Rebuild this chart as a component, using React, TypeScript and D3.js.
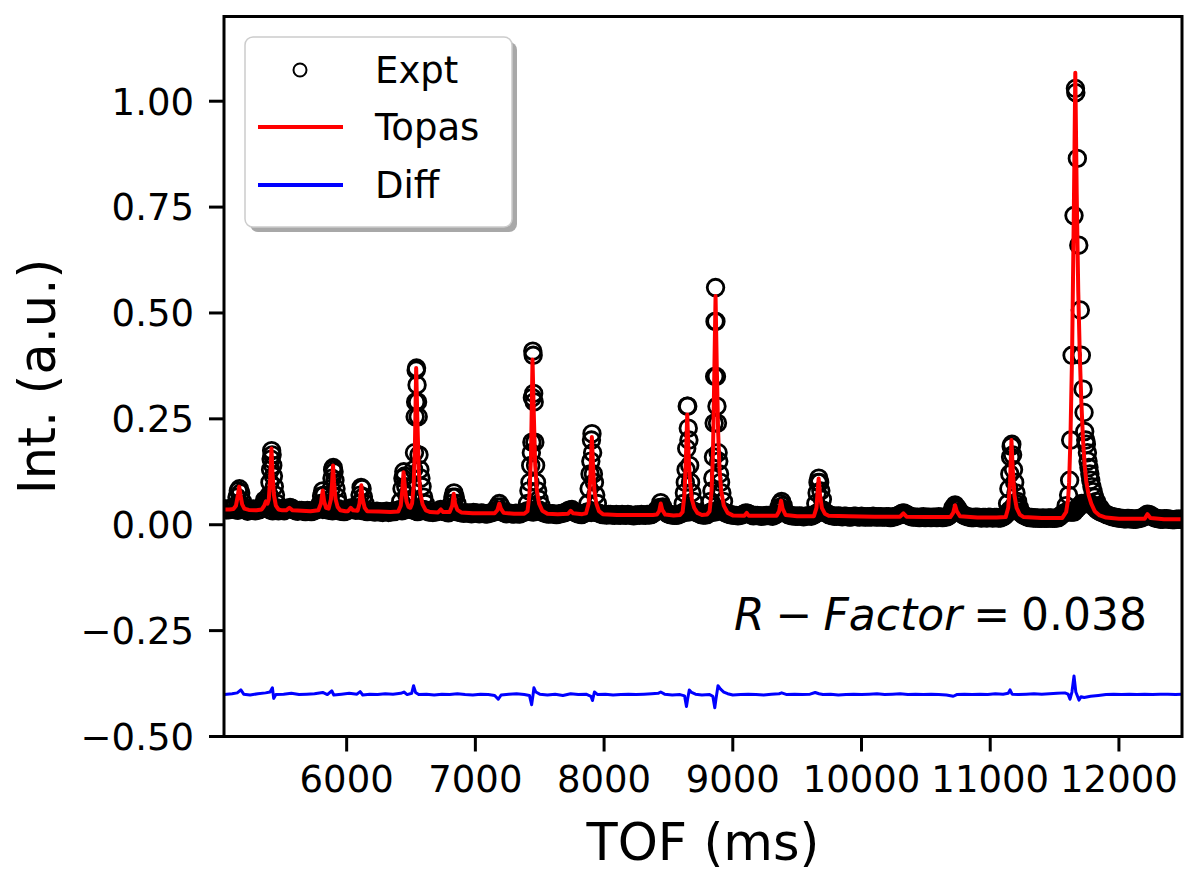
import React from "react";
import * as d3 from "d3";

type Pt = [number, number];

const W = 1188;
const H = 880;
const M = { left: 224, right: 1182, top: 16.5, bottom: 736.5 };
const FONT = "DejaVu Sans";

const xDomain: Pt = [5047, 12490];
const yDomain: Pt = [-0.5, 1.2];
const xTicks = [6000, 7000, 8000, 9000, 10000, 11000, 12000];
const yTicks = [-0.5, -0.25, 0, 0.25, 0.5, 0.75, 1.0];
const legendLabels = ["Expt", "Topas", "Diff"];
const rFactor = "0.038";

// experimental points on the background, [TOF, intensity]
const exptBackground: Pt[] = [
  [5050, 0.038], [5080, 0.035], [5110, 0.04], [5140, 0.035], [5170, 0.036], [5200, 0.037], [5230, 0.032], [5260, 0.036], [5290, 0.033], [5320, 0.035],
  [5350, 0.045], [5380, 0.05], [5410, 0.034], [5440, 0.036], [5470, 0.033], [5500, 0.034], [5530, 0.036], [5560, 0.041], [5590, 0.035], [5620, 0.032],
  [5650, 0.034], [5680, 0.031], [5710, 0.033], [5740, 0.032], [5770, 0.036], [5800, 0.04], [5830, 0.038], [5860, 0.034], [5890, 0.033], [5920, 0.036],
  [5950, 0.032], [5980, 0.031], [6010, 0.034], [6040, 0.04], [6070, 0.034], [6100, 0.035], [6130, 0.033], [6160, 0.031], [6190, 0.032], [6220, 0.03],
  [6250, 0.031], [6280, 0.029], [6310, 0.032], [6340, 0.03], [6370, 0.031], [6400, 0.034], [6430, 0.033], [6460, 0.036], [6490, 0.038], [6520, 0.034],
  [6550, 0.031], [6580, 0.033], [6610, 0.035], [6640, 0.03], [6670, 0.029], [6700, 0.031], [6730, 0.036], [6760, 0.031], [6790, 0.028], [6820, 0.033],
  [6850, 0.032], [6880, 0.029], [6910, 0.027], [6940, 0.028], [6970, 0.026], [7000, 0.028], [7030, 0.026], [7060, 0.027], [7090, 0.025], [7120, 0.028],
  [7150, 0.031], [7180, 0.034], [7210, 0.03], [7240, 0.026], [7270, 0.027], [7300, 0.025], [7330, 0.026], [7360, 0.028], [7390, 0.031], [7420, 0.033],
  [7450, 0.03], [7480, 0.034], [7510, 0.031], [7540, 0.027], [7570, 0.025], [7600, 0.026], [7630, 0.024], [7660, 0.026], [7690, 0.028], [7720, 0.033],
  [7750, 0.036], [7780, 0.028], [7810, 0.025], [7840, 0.026], [7870, 0.03], [7900, 0.029], [7930, 0.03], [7960, 0.027], [7990, 0.024], [8020, 0.023],
  [8050, 0.024], [8080, 0.022], [8110, 0.023], [8140, 0.024], [8170, 0.022], [8200, 0.023], [8230, 0.021], [8260, 0.023], [8290, 0.024], [8320, 0.022],
  [8350, 0.023], [8380, 0.026], [8410, 0.035], [8440, 0.04], [8470, 0.033], [8500, 0.025], [8530, 0.023], [8560, 0.022], [8590, 0.025], [8620, 0.03],
  [8650, 0.03], [8680, 0.033], [8710, 0.03], [8740, 0.026], [8770, 0.023], [8800, 0.024], [8830, 0.03], [8860, 0.03], [8890, 0.035], [8920, 0.032],
  [8950, 0.027], [8980, 0.024], [9010, 0.022], [9040, 0.021], [9070, 0.023], [9100, 0.028], [9130, 0.025], [9160, 0.021], [9190, 0.022], [9220, 0.02],
  [9250, 0.021], [9280, 0.022], [9310, 0.02], [9340, 0.025], [9370, 0.04], [9400, 0.03], [9430, 0.024], [9460, 0.021], [9490, 0.02], [9520, 0.021],
  [9550, 0.019], [9580, 0.021], [9610, 0.02], [9640, 0.025], [9670, 0.03], [9700, 0.035], [9730, 0.027], [9760, 0.022], [9790, 0.02], [9820, 0.021],
  [9850, 0.019], [9880, 0.02], [9910, 0.018], [9940, 0.02], [9970, 0.019], [10000, 0.02], [10030, 0.018], [10060, 0.019], [10090, 0.02], [10120, 0.018],
  [10150, 0.019], [10180, 0.018], [10210, 0.019], [10240, 0.018], [10270, 0.02], [10300, 0.024], [10330, 0.028], [10360, 0.023], [10390, 0.019], [10420, 0.018],
  [10450, 0.017], [10480, 0.019], [10510, 0.018], [10540, 0.017], [10570, 0.018], [10600, 0.019], [10630, 0.017], [10660, 0.018], [10690, 0.024], [10720, 0.04],
  [10750, 0.036], [10780, 0.026], [10810, 0.02], [10840, 0.018], [10870, 0.017], [10900, 0.018], [10930, 0.016], [10960, 0.017], [10990, 0.018], [11020, 0.016],
  [11050, 0.017], [11080, 0.016], [11110, 0.02], [11140, 0.03], [11170, 0.035], [11200, 0.05], [11230, 0.03], [11260, 0.022], [11290, 0.018], [11320, 0.017],
  [11350, 0.016], [11380, 0.015], [11410, 0.016], [11440, 0.015], [11470, 0.016], [11500, 0.015], [11530, 0.017], [11560, 0.025], [11590, 0.03], [11620, 0.03],
  [11650, 0.03], [11680, 0.04], [11710, 0.05], [11740, 0.05], [11770, 0.05], [11800, 0.045], [11830, 0.035], [11860, 0.03], [11890, 0.026], [11920, 0.022],
  [11950, 0.019], [11980, 0.017], [12010, 0.015], [12040, 0.014], [12070, 0.015], [12100, 0.014], [12130, 0.013], [12160, 0.015], [12190, 0.018], [12220, 0.025],
  [12250, 0.022], [12280, 0.016], [12310, 0.014], [12340, 0.013], [12370, 0.014], [12400, 0.013], [12430, 0.012], [12460, 0.013], [12490, 0.013],
];

// background points between the ones above
const exptBackgroundMid: Pt[] = [
  [5065, 0.036], [5095, 0.037], [5125, 0.041], [5155, 0.034], [5185, 0.038], [5215, 0.035], [5245, 0.034], [5275, 0.037], [5305, 0.034], [5335, 0.038],
  [5365, 0.05], [5395, 0.045], [5425, 0.033], [5455, 0.04], [5485, 0.035], [5515, 0.033], [5545, 0.038], [5575, 0.039], [5605, 0.033], [5635, 0.034],
  [5665, 0.032], [5695, 0.034], [5725, 0.031], [5755, 0.034], [5785, 0.039], [5815, 0.036], [5845, 0.039], [5875, 0.035], [5905, 0.034], [5935, 0.038],
  [5965, 0.033], [5995, 0.032], [6025, 0.037], [6055, 0.037], [6085, 0.035], [6115, 0.034], [6145, 0.036], [6175, 0.032], [6205, 0.031], [6235, 0.032],
  [6265, 0.03], [6295, 0.031], [6325, 0.029], [6355, 0.032], [6385, 0.033], [6415, 0.036], [6445, 0.034], [6475, 0.039], [6505, 0.036], [6535, 0.033],
  [6565, 0.034], [6595, 0.036], [6625, 0.032], [6655, 0.03], [6685, 0.03], [6715, 0.033], [6745, 0.034], [6775, 0.03], [6805, 0.031], [6835, 0.034],
  [6865, 0.03], [6895, 0.028], [6925, 0.028], [6955, 0.027], [6985, 0.029], [7015, 0.027], [7045, 0.028], [7075, 0.026], [7105, 0.027], [7135, 0.029],
  [7165, 0.034], [7195, 0.033], [7225, 0.028], [7255, 0.027], [7285, 0.026], [7315, 0.027], [7345, 0.025], [7375, 0.029], [7405, 0.033], [7435, 0.031],
  [7465, 0.033], [7495, 0.035], [7525, 0.029], [7555, 0.026], [7585, 0.026], [7615, 0.025], [7645, 0.025], [7675, 0.027], [7705, 0.03], [7735, 0.035],
  [7765, 0.031], [7795, 0.026], [7825, 0.024], [7855, 0.028], [7885, 0.031], [7915, 0.031], [7945, 0.029], [7975, 0.025], [8005, 0.024], [8035, 0.024],
  [8065, 0.023], [8095, 0.024], [8125, 0.022], [8155, 0.023], [8185, 0.024], [8215, 0.022], [8245, 0.023], [8275, 0.022], [8305, 0.023], [8335, 0.024],
  [8365, 0.024], [8395, 0.03], [8425, 0.038], [8455, 0.037], [8485, 0.028], [8515, 0.024], [8545, 0.022], [8575, 0.023], [8605, 0.027], [8635, 0.032],
  [8665, 0.031], [8695, 0.032], [8725, 0.028], [8755, 0.024], [8785, 0.023], [8815, 0.027], [8845, 0.031], [8875, 0.033], [8905, 0.034], [8935, 0.029],
  [8965, 0.025], [8995, 0.023], [9025, 0.022], [9055, 0.022], [9085, 0.025], [9115, 0.027], [9145, 0.023], [9175, 0.022], [9205, 0.021], [9235, 0.021],
  [9265, 0.022], [9295, 0.021], [9325, 0.022], [9355, 0.032], [9385, 0.036], [9415, 0.027], [9445, 0.022], [9475, 0.021], [9505, 0.02], [9535, 0.02],
  [9565, 0.02], [9595, 0.021], [9625, 0.022], [9655, 0.028], [9685, 0.033], [9715, 0.03], [9745, 0.024], [9775, 0.021], [9805, 0.02], [9835, 0.02],
  [9865, 0.02], [9895, 0.019], [9925, 0.019], [9955, 0.02], [9985, 0.018], [10015, 0.019], [10045, 0.019], [10075, 0.018], [10105, 0.019], [10135, 0.019],
  [10165, 0.018], [10195, 0.019], [10225, 0.017], [10255, 0.019], [10285, 0.022], [10315, 0.027], [10345, 0.025], [10375, 0.02], [10405, 0.018], [10435, 0.018],
  [10465, 0.018], [10495, 0.017], [10525, 0.018], [10555, 0.018], [10585, 0.017], [10615, 0.018], [10645, 0.018], [10675, 0.02], [10705, 0.032], [10735, 0.04],
  [10765, 0.03], [10795, 0.022], [10825, 0.019], [10855, 0.017], [10885, 0.018], [10915, 0.017], [10945, 0.017], [10975, 0.016], [11005, 0.017], [11035, 0.017],
  [11065, 0.016], [11095, 0.018], [11125, 0.025], [11155, 0.035], [11185, 0.045], [11215, 0.038], [11245, 0.026], [11275, 0.02], [11305, 0.017], [11335, 0.016],
  [11365, 0.016], [11395, 0.015], [11425, 0.015], [11455, 0.016], [11485, 0.015], [11515, 0.016], [11545, 0.02], [11575, 0.028], [11605, 0.032], [11635, 0.03],
  [11665, 0.035], [11695, 0.045], [11725, 0.05], [11755, 0.05], [11785, 0.048], [11815, 0.04], [11845, 0.032], [11875, 0.028], [11905, 0.024], [11935, 0.02],
  [11965, 0.018], [11995, 0.016], [12025, 0.015], [12055, 0.014], [12085, 0.014], [12115, 0.013], [12145, 0.014], [12175, 0.016], [12205, 0.021], [12235, 0.024],
  [12265, 0.018], [12295, 0.015], [12325, 0.013], [12355, 0.014], [12385, 0.013], [12415, 0.012], [12445, 0.013], [12475, 0.013],
];

// experimental points on the Bragg peaks
const exptPeaks: Pt[] = [
  [5135, 0.045], [5148, 0.065], [5158, 0.08], [5167, 0.085], [5177, 0.075], [5190, 0.055], [5205, 0.042],
  [5350, 0.045], [5362, 0.058], [5376, 0.06], [5388, 0.055],
  [5398, 0.07], [5404, 0.1], [5409, 0.13], [5413, 0.155], [5417, 0.175], [5421, 0.165], [5426, 0.14], [5431, 0.115], [5438, 0.09], [5447, 0.07], [5460, 0.05],
  [5795, 0.05], [5805, 0.068], [5814, 0.08], [5824, 0.07], [5836, 0.052],
  [5872, 0.06], [5880, 0.085], [5886, 0.11], [5891, 0.13], [5896, 0.135], [5902, 0.125], [5909, 0.105], [5917, 0.085], [5927, 0.065], [5940, 0.05],
  [6095, 0.05], [6104, 0.07], [6112, 0.088], [6120, 0.085], [6130, 0.066], [6143, 0.05],
  [6420, 0.055], [6430, 0.085], [6437, 0.11], [6444, 0.125], [6451, 0.115], [6459, 0.09], [6468, 0.07], [6480, 0.055],
  [6505, 0.06], [6514, 0.09], [6521, 0.13], [6527, 0.17], [6532, 0.255], [6536, 0.29], [6540, 0.365], [6543, 0.37], [6547, 0.33], [6551, 0.29],
  [6556, 0.255], [6562, 0.165], [6569, 0.13], [6577, 0.11], [6586, 0.09], [6598, 0.065], [6612, 0.05],
  [6815, 0.05], [6825, 0.065], [6834, 0.075], [6844, 0.065], [6857, 0.05],
  [7170, 0.042], [7186, 0.05], [7200, 0.042],
  [7405, 0.05], [7416, 0.08], [7424, 0.1], [7430, 0.14], [7435, 0.17], [7439, 0.195], [7443, 0.3], [7446, 0.41], [7449, 0.4], [7453, 0.31],
  [7457, 0.29], [7462, 0.195], [7468, 0.14], [7475, 0.1], [7484, 0.08], [7495, 0.06], [7510, 0.045],
  [7875, 0.05], [7884, 0.085], [7891, 0.12], [7897, 0.15], [7902, 0.2], [7906, 0.215], [7911, 0.17], [7917, 0.12], [7925, 0.1], [7935, 0.07], [7948, 0.05],
  [8425, 0.04], [8440, 0.052], [8456, 0.042],
  [8615, 0.05], [8624, 0.075], [8631, 0.1], [8637, 0.13], [8642, 0.18], [8646, 0.28], [8650, 0.28], [8654, 0.228], [8659, 0.2], [8665, 0.14],
  [8672, 0.1], [8682, 0.075], [8695, 0.055],
  [8828, 0.055], [8838, 0.08], [8845, 0.11], [8850, 0.16], [8855, 0.24], [8859, 0.35], [8862, 0.48], [8866, 0.56], [8869, 0.48], [8873, 0.35],
  [8877, 0.28], [8881, 0.24], [8886, 0.17], [8891, 0.15], [8897, 0.12], [8905, 0.1], [8915, 0.075], [8928, 0.055],
  [9357, 0.04], [9368, 0.05], [9379, 0.055], [9392, 0.045],
  [9645, 0.05], [9655, 0.075], [9662, 0.1], [9668, 0.11], [9675, 0.1], [9684, 0.08], [9696, 0.06],
  [10710, 0.04], [10727, 0.047], [10745, 0.04],
  [11135, 0.05], [11145, 0.085], [11152, 0.12], [11158, 0.16], [11163, 0.185], [11168, 0.19], [11174, 0.165], [11181, 0.13], [11190, 0.1], [11200, 0.075],
  [11213, 0.055], [11228, 0.04],
  [11590, 0.045], [11609, 0.07], [11617, 0.105], [11625, 0.2], [11636, 0.4], [11651, 0.73], [11662, 1.03], [11665, 1.02], [11677, 0.865], [11688, 0.66],
  [11700, 0.507], [11708, 0.4], [11721, 0.32], [11729, 0.265], [11734, 0.22], [11742, 0.2], [11747, 0.19], [11755, 0.17], [11760, 0.15], [11767, 0.135],
  [11774, 0.12], [11781, 0.105], [11790, 0.09], [11800, 0.078], [11812, 0.065], [11825, 0.055], [11840, 0.045], [11858, 0.038],
];

// Topas calculated profile
const topasCurve: Pt[] = [
  [5047, 0.036], [5090, 0.036], [5120, 0.037], [5140, 0.045], [5155, 0.07], [5165, 0.09], [5175, 0.07], [5188, 0.048], [5205, 0.038], [5240, 0.035],
  [5300, 0.034], [5340, 0.036], [5360, 0.045], [5372, 0.055], [5385, 0.05], [5395, 0.06], [5406, 0.11], [5416, 0.18], [5424, 0.12], [5435, 0.07],
  [5450, 0.045], [5470, 0.036], [5500, 0.034], [5530, 0.034], [5555, 0.04], [5580, 0.034], [5650, 0.033], [5720, 0.032], [5780, 0.034], [5800, 0.05],
  [5814, 0.081], [5825, 0.055], [5840, 0.04], [5860, 0.038], [5878, 0.06], [5887, 0.1], [5894, 0.14], [5902, 0.1], [5914, 0.06], [5930, 0.042],
  [5950, 0.034], [5990, 0.032], [6010, 0.032], [6032, 0.04], [6050, 0.034], [6085, 0.033], [6100, 0.05], [6114, 0.093], [6124, 0.06], [6140, 0.04],
  [6160, 0.032], [6250, 0.031], [6340, 0.03], [6400, 0.031], [6420, 0.045], [6432, 0.08], [6442, 0.124], [6452, 0.09], [6465, 0.055], [6480, 0.042],
  [6495, 0.04], [6508, 0.05], [6520, 0.09], [6530, 0.18], [6540, 0.37], [6549, 0.25], [6560, 0.13], [6572, 0.075], [6590, 0.048], [6615, 0.034],
  [6650, 0.03], [6710, 0.029], [6732, 0.036], [6750, 0.03], [6800, 0.03], [6820, 0.045], [6832, 0.073], [6842, 0.05], [6860, 0.035], [6890, 0.029],
  [6980, 0.027], [7060, 0.027], [7150, 0.027], [7172, 0.035], [7186, 0.05], [7198, 0.038], [7220, 0.028], [7300, 0.026], [7380, 0.026], [7405, 0.032],
  [7420, 0.07], [7432, 0.16], [7444, 0.39], [7454, 0.26], [7465, 0.14], [7478, 0.08], [7495, 0.05], [7520, 0.033], [7560, 0.026], [7640, 0.025],
  [7720, 0.026], [7740, 0.033], [7760, 0.027], [7830, 0.025], [7860, 0.027], [7880, 0.05], [7893, 0.11], [7905, 0.207], [7914, 0.14], [7925, 0.08],
  [7940, 0.05], [7960, 0.032], [7990, 0.025], [8100, 0.023], [8250, 0.023], [8380, 0.023], [8410, 0.024], [8428, 0.032], [8440, 0.05], [8452, 0.035],
  [8475, 0.024], [8540, 0.022], [8590, 0.023], [8610, 0.03], [8624, 0.07], [8635, 0.15], [8646, 0.26], [8656, 0.17], [8668, 0.1], [8682, 0.06],
  [8700, 0.04], [8725, 0.028], [8760, 0.023], [8800, 0.024], [8820, 0.032], [8835, 0.08], [8846, 0.17], [8856, 0.35], [8866, 0.54], [8875, 0.38],
  [8886, 0.22], [8897, 0.13], [8910, 0.08], [8930, 0.045], [8960, 0.028], [9000, 0.022], [9090, 0.021], [9108, 0.028], [9125, 0.021], [9250, 0.021],
  [9340, 0.021], [9360, 0.032], [9375, 0.057], [9387, 0.038], [9410, 0.023], [9500, 0.02], [9630, 0.02], [9650, 0.04], [9667, 0.109], [9678, 0.07],
  [9692, 0.04], [9715, 0.026], [9745, 0.021], [9900, 0.02], [10100, 0.019], [10300, 0.019], [10325, 0.027], [10350, 0.019], [10500, 0.018], [10690, 0.018],
  [10712, 0.028], [10727, 0.046], [10740, 0.032], [10765, 0.02], [10900, 0.017], [11050, 0.017], [11120, 0.018], [11140, 0.04], [11154, 0.1], [11165, 0.2],
  [11175, 0.13], [11188, 0.07], [11205, 0.04], [11230, 0.024], [11260, 0.018], [11400, 0.016], [11560, 0.016], [11590, 0.03], [11605, 0.06], [11613, 0.1],
  [11623, 0.2], [11636, 0.4], [11650, 0.75], [11661, 1.067], [11672, 0.78], [11684, 0.55], [11696, 0.4], [11708, 0.29], [11721, 0.2], [11734, 0.14],
  [11747, 0.1], [11765, 0.07], [11785, 0.05], [11812, 0.032], [11850, 0.022], [11900, 0.017], [12000, 0.014], [12200, 0.014], [12222, 0.025], [12245, 0.016],
  [12350, 0.013], [12490, 0.013],
];

// difference curve (offset below the pattern)
const diffCurve: Pt[] = [
  [5050, -0.401], [5110, -0.399], [5150, -0.397], [5178, -0.39], [5200, -0.4], [5250, -0.402], [5310, -0.399], [5370, -0.397], [5405, -0.395], [5423, -0.385],
  [5433, -0.41], [5450, -0.401], [5510, -0.4], [5570, -0.398], [5630, -0.401], [5690, -0.4], [5750, -0.399], [5814, -0.396], [5850, -0.401], [5884, -0.392],
  [5900, -0.402], [5960, -0.4], [6020, -0.398], [6080, -0.4], [6105, -0.394], [6125, -0.402], [6180, -0.4], [6240, -0.401], [6300, -0.399], [6360, -0.4],
  [6420, -0.398], [6445, -0.395], [6470, -0.401], [6505, -0.398], [6520, -0.38], [6535, -0.396], [6560, -0.401], [6620, -0.4], [6680, -0.402], [6740, -0.4],
  [6800, -0.401], [6860, -0.399], [6920, -0.401], [6980, -0.402], [7040, -0.4], [7100, -0.401], [7150, -0.403], [7178, -0.412], [7200, -0.402], [7260, -0.4],
  [7320, -0.399], [7380, -0.401], [7420, -0.403], [7437, -0.425], [7447, -0.404], [7455, -0.385], [7470, -0.395], [7500, -0.4], [7560, -0.402], [7620, -0.4],
  [7680, -0.403], [7740, -0.399], [7800, -0.401], [7860, -0.4], [7898, -0.405], [7910, -0.415], [7925, -0.395], [7950, -0.401], [8010, -0.4], [8070, -0.402],
  [8130, -0.401], [8190, -0.4], [8250, -0.401], [8310, -0.4], [8370, -0.399], [8420, -0.398], [8440, -0.395], [8470, -0.4], [8530, -0.402], [8590, -0.401],
  [8625, -0.404], [8640, -0.429], [8650, -0.41], [8662, -0.39], [8680, -0.396], [8710, -0.4], [8760, -0.402], [8820, -0.401], [8845, -0.405], [8860, -0.432],
  [8870, -0.41], [8885, -0.38], [8905, -0.388], [8930, -0.395], [8960, -0.399], [9000, -0.402], [9060, -0.401], [9120, -0.4], [9180, -0.401], [9240, -0.402],
  [9300, -0.4], [9360, -0.399], [9380, -0.397], [9420, -0.401], [9480, -0.4], [9540, -0.401], [9600, -0.4], [9640, -0.396], [9670, -0.399], [9700, -0.401],
  [9760, -0.4], [9820, -0.402], [9880, -0.401], [9940, -0.4], [10000, -0.401], [10060, -0.4], [10120, -0.399], [10180, -0.401], [10240, -0.4], [10300, -0.399],
  [10360, -0.401], [10420, -0.4], [10480, -0.401], [10540, -0.4], [10600, -0.401], [10660, -0.402], [10713, -0.405], [10740, -0.401], [10800, -0.4], [10860, -0.401],
  [10920, -0.4], [10980, -0.401], [11040, -0.399], [11100, -0.4], [11140, -0.398], [11154, -0.39], [11170, -0.4], [11220, -0.401], [11280, -0.4], [11340, -0.399],
  [11400, -0.4], [11460, -0.399], [11520, -0.398], [11580, -0.397], [11605, -0.4], [11620, -0.412], [11635, -0.395], [11651, -0.357], [11665, -0.395], [11690, -0.414],
  [11705, -0.406], [11730, -0.408], [11780, -0.405], [11840, -0.403], [11900, -0.401], [11960, -0.4], [12020, -0.401], [12080, -0.4], [12140, -0.401], [12200, -0.4],
  [12260, -0.401], [12320, -0.4], [12380, -0.4], [12440, -0.401], [12490, -0.4],
];

export default function App() {
  const x = d3.scaleLinear().domain(xDomain).range([M.left, M.right]);
  const y = d3.scaleLinear().domain(yDomain).range([M.bottom, M.top]);
  const line = d3
    .line<Pt>()
    .x((d) => x(d[0]))
    .y((d) => y(d[1]));
  const fmtY = d3.format(".2f");
  const expt = exptBackground.concat(exptBackgroundMid, exptPeaks);

  // legend box
  const lg = { x: 245, y: 37, w: 267, h: 190 };
  const rows = [70, 127, 185];
  const sp = "\u2005";

  return (
    <svg
      width={W}
      height={H}
      style={{ position: "absolute", left: 0, top: 0, background: "#fff" }}
      fontFamily={FONT}
    >
      <defs>
        <clipPath id="plot-clip">
          <rect x={M.left} y={M.top} width={M.right - M.left} height={M.bottom - M.top} />
        </clipPath>
      </defs>

      <g clipPath="url(#plot-clip)">
        {expt.map((d, i) => (
          <circle key={i} cx={x(d[0])} cy={y(d[1])} r={8.3} fill="none" stroke="#000" strokeWidth={2.8} />
        ))}
        <path d={line(topasCurve) || ""} fill="none" stroke="#ff0000" strokeWidth={4} strokeLinejoin="round" />
        <path d={line(diffCurve) || ""} fill="none" stroke="#0000ff" strokeWidth={3} strokeLinejoin="round" />
      </g>

      {/* spines */}
      <rect
        x={M.left}
        y={M.top}
        width={M.right - M.left}
        height={M.bottom - M.top}
        fill="none"
        stroke="#000"
        strokeWidth={3}
      />

      {/* x axis */}
      {xTicks.map((t) => (
        <g key={t}>
          <line x1={x(t)} x2={x(t)} y1={M.bottom} y2={M.bottom + 15} stroke="#000" strokeWidth={3} />
          <text x={x(t)} y={792} textAnchor="middle" fontSize={37}>
            {t}
          </text>
        </g>
      ))}
      {/* y axis */}
      {yTicks.map((t) => (
        <g key={t}>
          <line x1={M.left - 15} x2={M.left} y1={y(t)} y2={y(t)} stroke="#000" strokeWidth={3} />
          <text x={194} y={y(t) + 13.3} textAnchor="end" fontSize={37}>
            {fmtY(t)}
          </text>
        </g>
      ))}

      <text x={(M.left + M.right) / 2} y={860} textAnchor="middle" fontSize={51}>
        TOF (ms)
      </text>
      <text
        transform={`translate(55,${(M.top + M.bottom) / 2}) rotate(-90)`}
        textAnchor="middle"
        fontSize={51}
      >
        Int. (a.u.)
      </text>

      <text x={1147} y={630} textAnchor="end" fontSize={44}>
        <tspan fontStyle="italic">R</tspan>
        {sp + "\u2212" + sp}
        <tspan fontStyle="italic">Factor</tspan>
        {sp + "=" + sp + rFactor}
      </text>

      {/* legend */}
      <rect x={lg.x + 5} y={lg.y + 5} width={lg.w} height={lg.h} rx={8} fill="#a8a8a8" />
      <rect x={lg.x} y={lg.y} width={lg.w} height={lg.h} rx={8} fill="#fff" stroke="#cccccc" strokeWidth={1.5} />
      <circle cx={300} cy={rows[0]} r={6.5} fill="none" stroke="#000" strokeWidth={2} />
      <line x1={258} x2={343} y1={rows[1]} y2={rows[1]} stroke="#ff0000" strokeWidth={4} />
      <line x1={258} x2={343} y1={rows[2]} y2={rows[2]} stroke="#0000ff" strokeWidth={4} />
      {legendLabels.map((l, i) => (
        <text key={l} x={375} y={rows[i] + 13} fontSize={37}>
          {l}
        </text>
      ))}
    </svg>
  );
}
